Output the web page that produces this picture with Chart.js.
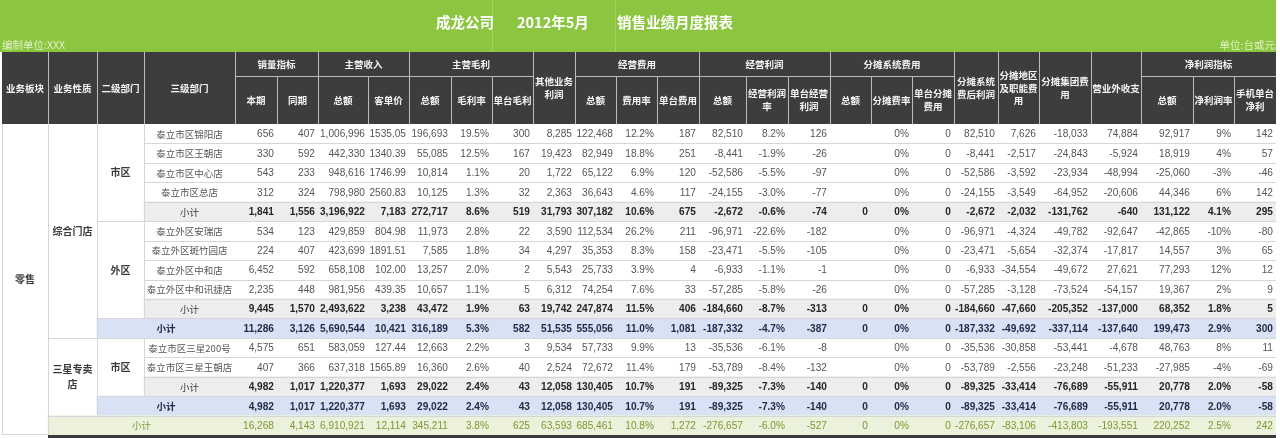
<!DOCTYPE html>
<html><head><meta charset="utf-8">
<script src="https://cdn.jsdelivr.net/npm/chart.js@4.4.1/dist/chart.umd.min.js"></script>
<style>html,body{margin:0;padding:0;background:#fff;overflow:hidden}canvas{display:block}</style>
</head><body>
<canvas id="c" width="1280" height="438"></canvas>
<script>
// ================= DATA =================
const TITLE_PARTS = ['成龙公司', '2012年5月', '销售业绩月度报表'];
const ORG_NOTE = '编制单位:XXX';
const UNIT_NOTE = '单位:台或元';

const ROW_LABELS = ['泰立市区锦阳店','泰立市区王朝店','泰立市区中心店','泰立市区总店','小计',
  '泰立外区安瑞店','泰立外区斑竹园店','泰立外区中和店','泰立外区中和讯捷店','小计','小计',
  '泰立市区三星200号','泰立市区三星王朝店','小计','小计','小计'];
// d = store row, s = sub-total, b = blue total, g = green grand total
const ROW_KIND = ['d','d','d','d','s','d','d','d','d','s','b','d','d','s','b','g'];
const SEGMENTS = [{label:'零售', first:0, last:15}];
const NATURES  = [{label:'综合门店', first:0, last:10}, {label:'三星专卖店', first:11, last:14}];
const DEPTS    = [{label:'市区', first:0, last:4}, {label:'外区', first:5, last:9}, {label:'市区', first:11, last:13}];

const LEFT_HEADERS = ['业务板块','业务性质','二级部门','三级部门'];
const GROUP_HEADERS = [['销量指标',4,5],['主营收入',6,7],['主营毛利',8,10],['经营费用',12,14],
  ['经营利润',15,17],['分摊系统费用',18,20],['净利润指标',25,27]];
const SUB_HEADERS = ['本期','同期','总额','客单价','总额','毛利率','单台毛利','其他业务利润',
  '总额','费用率','单台费用','总额','经营利润率','单台经营利润','总额','分摊费率','单台分摊费用',
  '分摊系统费后利润','分摊地区及职能费用','分摊集团费用','营业外收支','总额','净利润率','手机单台净利'];
const FULL_HEIGHT_SUB = [11, 21, 22, 23, 24];

const qtyCur      = [656,330,543,312,1841,534,224,6452,2235,9445,11286,4575,407,4982,4982,16268];
const qtyPrev     = [407,592,233,324,1556,123,407,592,448,1570,3126,651,366,1017,1017,4143];
const revTotal    = [1006996,442330,948616,798980,3196922,429859,423699,658108,981956,2493622,5690544,583059,637318,1220377,1220377,6910921];
const revPerCust  = [1535.05,1340.39,1746.99,2560.83,7183,804.98,1891.51,102.00,439.35,3238,10421,127.44,1565.89,1693,1693,12114];
const gpTotal     = [196693,55085,10814,10125,272717,11973,7585,13257,10657,43472,316189,12663,16360,29022,29022,345211];
const gpRate      = [19.5,12.5,1.1,1.3,8.6,2.8,1.8,2.0,1.1,1.9,5.3,2.2,2.6,2.4,2.4,3.8];
const gpUnit      = [300,167,20,32,519,22,34,2,5,63,582,3,40,43,43,625];
const otherProfit = [8285,19423,1722,2363,31793,3590,4297,5543,6312,19742,51535,9534,2524,12058,12058,63593];
const opexTotal   = [122468,82949,65122,36643,307182,112534,35353,25733,74254,247874,555056,57733,72672,130405,130405,685461];
const opexRate    = [12.2,18.8,6.9,4.6,10.6,26.2,8.3,3.9,7.6,11.5,11.0,9.9,11.4,10.7,10.7,10.8];
const opexUnit    = [187,251,120,117,675,211,158,4,33,406,1081,13,179,191,191,1272];
const opTotal     = [82510,-8441,-52586,-24155,-2672,-96971,-23471,-6933,-57285,-184660,-187332,-35536,-53789,-89325,-89325,-276657];
const opRate      = [8.2,-1.9,-5.5,-3.0,-0.6,-22.6,-5.5,-1.1,-5.8,-8.7,-4.7,-6.1,-8.4,-7.3,-7.3,-6.0];
const opUnit      = [126,-26,-97,-77,-74,-182,-105,-1,-26,-313,-387,-8,-132,-140,-140,-527];
const sysTotal    = [null,null,null,null,0,null,null,null,null,0,0,null,null,0,0,0];
const sysRate     = [0,0,0,0,0,0,0,0,0,0,0,0,0,0,0,0];
const sysUnit     = [0,0,0,0,0,0,0,0,0,0,0,0,0,0,0,0];
const afterSys    = [82510,-8441,-52586,-24155,-2672,-96971,-23471,-6933,-57285,-184660,-187332,-35536,-53789,-89325,-89325,-276657];
const regionFee   = [7626,-2517,-3592,-3549,-2032,-4324,-5654,-34554,-3128,-47660,-49692,-30858,-2556,-33414,-33414,-83106];
const groupFee    = [-18033,-24843,-23934,-64952,-131762,-49782,-32374,-49672,-73524,-205352,-337114,-53441,-23248,-76689,-76689,-413803];
const nonOp       = [74884,-5924,-48994,-20606,-640,-92647,-17817,27621,-54157,-137000,-137640,-4678,-51233,-55911,-55911,-193551];
const netTotal    = [92917,18919,-25060,44346,131122,-42865,14557,77293,19367,68352,199473,48763,-27985,20778,20778,220252];
const netRate     = [9,4,-3,6,4.1,-10,3,12,2,1.8,2.9,8,-4,2.0,2.0,2.5];
const netUnit     = [142,57,-46,142,295,-80,65,12,9,5,300,11,-69,-58,-58,242];

// ================= LAYOUT / STYLE =================
const COL_W = [46,49,47,91,42,41,50,41,42,41,41,42,41,41,42,47,42,42,41,41,42,44,41,52,50,52,41,42];
const BOUNDS = COL_W.reduce((a,w)=>{a.push(a[a.length-1]+w);return a;},[0]);
const TOTAL_W = BOUNDS[BOUNDS.length-1];
const TITLE_BOTTOM = 52, HEADER_SPLIT = 76;
const TITLE_AT = [434, 515, 615];
const TITLE_SEPS = [490, 613];
const GREEN = '#8cc540', HEAD_BG = '#3d3d3d', HEAD_LINE = '#bcbcbc', GRID = '#d6d6d6';
const ROW_BG = {s:'#ededed', b:'#d9e2f5', g:'#ebf1db'};
const ROW_COLOR = {d:'#555555', s:'#262626', b:'#1d2945', g:'#7a9a32'};
const NUMF = "'Liberation Sans', Arial, 'Noto Sans CJK SC', sans-serif";
const CJK = "'Noto Sans CJK SC', 'Liberation Sans', sans-serif";
const NUM_SIZE = 11.5, NUM_SQUEEZE = 0.88, NUM_PAD = 3;

const DATA_COLS = [
  [qtyCur,'int'],[qtyPrev,'int'],[revTotal,'int'],[revPerCust,'price'],
  [gpTotal,'int'],[gpRate,'pct1'],[gpUnit,'int'],[otherProfit,'int'],
  [opexTotal,'int'],[opexRate,'pct1'],[opexUnit,'int'],
  [opTotal,'int'],[opRate,'pct1'],[opUnit,'int'],
  [sysTotal,'int'],[sysRate,'pct0'],[sysUnit,'int'],
  [afterSys,'int'],[regionFee,'int'],[groupFee,'int'],[nonOp,'int'],
  [netTotal,'int'],[netRate,'netpct'],[netUnit,'int']];

function fmt(v, f, kind){
  if (v === null || v === undefined) return '';
  const detail = kind === 'd';
  switch(f){
    case 'price': return detail ? v.toFixed(2) : Math.round(v).toLocaleString('en-US');
    case 'pct1': return v.toFixed(1) + '%';
    case 'pct0': return v.toFixed(0) + '%';
    case 'netpct': return (detail ? v.toFixed(0) : v.toFixed(1)) + '%';
    default: return Math.round(v).toLocaleString('en-US');
  }
}
function findGroup(list, r){ return list.findIndex(g => r >= g.first && r <= g.last); }
function owner(c, r){
  const k = ROW_KIND[r];
  if (c === 0) return 'seg';
  if (c === 1) return k === 'g' ? 'g' : 'n' + findGroup(NATURES, r);
  if (c === 2) { if (k === 'g') return 'g'; if (k === 'b') return 'b' + r; const g = findGroup(DEPTS, r); return g >= 0 ? 'd' + g : 'x' + r; }
  if (c === 3) { if (k === 'g') return 'g'; if (k === 'b') return 'b' + r; return 'r' + r; }
  return 'r' + r + 'c' + c;
}
function wrap(ctx, str, maxW){
  const lines = []; let cur = '';
  for (const ch of str){
    if (cur && ctx.measureText(cur + ch).width > maxW){ lines.push(cur); cur = ch; } else cur += ch;
  }
  if (cur) lines.push(cur);
  return lines;
}
function drawLines(ctx, lines, x, yc, lh){
  const y0 = yc - (lines.length - 1) * lh / 2;
  lines.forEach((l, i) => ctx.fillText(l, x, y0 + i * lh));
}
function drawNum(ctx, str, xr, yc){
  ctx.save();
  ctx.translate(xr, yc);
  ctx.scale(NUM_SQUEEZE, 1);
  ctx.textAlign = 'right';
  ctx.fillText(str, 0, 0);
  ctx.restore();
}

const tablePainter = {
  id: 'tablePainter',
  beforeDatasetsDraw(chart){
    const {ctx, chartArea: a, scales: {x}} = chart;
    const X = c => x.getPixelForValue(BOUNDS[c]);
    ctx.save();
    // title band
    ctx.fillStyle = GREEN;
    ctx.fillRect(0, 0, Math.round(X(28)), TITLE_BOTTOM);
    ctx.fillStyle = '#a2d263';
    TITLE_SEPS.forEach(u => ctx.fillRect(Math.round(x.getPixelForValue(u)), 0, 1, TITLE_BOTTOM));
    ctx.fillStyle = '#ffffff';
    ctx.textBaseline = 'middle'; ctx.textAlign = 'left';
    ctx.font = "bold 14.5px " + CJK;
    TITLE_PARTS.forEach((t, i) => ctx.fillText(t, x.getPixelForValue(TITLE_AT[i]), 22));
    ctx.font = "10.5px " + CJK;
    ctx.fillStyle = '#e0f2c4';
    ctx.fillText(ORG_NOTE, X(0), 45);
    ctx.textAlign = 'right';
    ctx.fillText(UNIT_NOTE, X(28) - 1, 45);

    // header
    const top = TITLE_BOTTOM, bot = a.top, mid = HEADER_SPLIT;
    ctx.fillStyle = HEAD_BG;
    ctx.fillRect(Math.round(X(0)), top, Math.round(X(28) - X(0)), bot - top);
    ctx.fillStyle = HEAD_LINE;
    const inner = new Set();
    GROUP_HEADERS.forEach(g => { for (let c = g[1] + 1; c <= g[2]; c++) inner.add(c); });
    for (let c = 1; c < 28; c++){
      const y0 = inner.has(c) ? mid : top;
      ctx.fillRect(Math.round(X(c)), y0, 1, bot - y0);
    }
    GROUP_HEADERS.forEach(g => ctx.fillRect(Math.round(X(g[1])), mid, Math.round(X(g[2] + 1) - X(g[1])), 1));
    ctx.fillStyle = '#f4f4f4';
    ctx.font = "bold 9.5px " + CJK;
    ctx.textAlign = 'center'; ctx.textBaseline = 'middle';
    LEFT_HEADERS.forEach((t, c) => ctx.fillText(t, (X(c) + X(c + 1)) / 2, (top + bot) / 2));
    GROUP_HEADERS.forEach(g => ctx.fillText(g[0], (X(g[1]) + X(g[2] + 1)) / 2, (top + mid) / 2));
    SUB_HEADERS.forEach((t, i) => {
      const c = i + 4;
      const w = X(c + 1) - X(c) - 1;
      const lines = wrap(ctx, t, w);
      const full = FULL_HEIGHT_SUB.includes(c);
      drawLines(ctx, lines, (X(c) + X(c + 1)) / 2, full ? (top + bot) / 2 : (mid + bot) / 2, 12.5);
    });
    ctx.restore();
  },
  afterDatasetsDraw(chart){
    const {ctx, chartArea: a, scales: {x, y}} = chart;
    const X = c => x.getPixelForValue(BOUNDS[c]);
    const band = y.getPixelForValue(1) - y.getPixelForValue(0);
    const rowTop = r => y.getPixelForValue(r) - band / 2;
    const n = ROW_LABELS.length;
    ctx.save();
    ctx.fillStyle = GRID;
    for (let r = 1; r < n; r++){
      const yy = Math.round(rowTop(r));
      for (let c = 0; c < 28; c++){
        if (owner(c, r - 1) !== owner(c, r)) ctx.fillRect(Math.round(X(c)), yy, Math.round(X(c + 1)) - Math.round(X(c)), 1);
      }
    }
    for (let r = 0; r < n; r++){
      const y0 = Math.round(rowTop(r)), y1 = Math.round(rowTop(r + 1));
      for (let c = 1; c <= 3; c++){
        if (owner(c - 1, r) !== owner(c, r)) ctx.fillRect(Math.round(X(c)), y0, 1, y1 - y0);
      }
    }
    ctx.fillRect(Math.round(X(0)), a.top, 1, a.bottom - a.top);
    ctx.fillRect(Math.round(X(0)), Math.round(a.bottom) - 1, Math.round(X(1) - X(0)), 1);
    ctx.fillStyle = '#3a3a3a';
    ctx.fillRect(Math.round(X(1)), Math.round(a.bottom), Math.round(X(28) - X(1)), 3);

    ctx.textBaseline = 'middle';
    const mergedText = (label, c0, c1, r0, r1, font, color) => {
      ctx.font = font; ctx.fillStyle = color; ctx.textAlign = 'center';
      const lines = wrap(ctx, label, X(c1 + 1) - X(c0) - 6);
      drawLines(ctx, lines, (X(c0) + X(c1 + 1)) / 2, (rowTop(r0) + rowTop(r1 + 1)) / 2, 15);
    };
    SEGMENTS.forEach(g => mergedText(g.label, 0, 0, g.first, g.last, "bold 10px " + CJK, '#3a3a3a'));
    NATURES.forEach(g => mergedText(g.label, 1, 1, g.first, g.last, "bold 10px " + CJK, '#3a3a3a'));
    DEPTS.forEach(g => mergedText(g.label, 2, 2, g.first, g.last, "bold 10px " + CJK, '#3a3a3a'));
    ROW_LABELS.forEach((lab, r) => {
      const k = ROW_KIND[r];
      const c0 = k === 'g' ? 1 : k === 'b' ? 2 : 3;
      const font = (k === 'b' ? 'bold ' : '') + '9.5px ' + CJK;
      const color = k === 'd' ? '#555555' : k === 's' ? '#3a3a3a' : ROW_COLOR[k];
      ctx.font = font; ctx.fillStyle = color; ctx.textAlign = 'center';
      ctx.fillText(lab, (X(c0) + X(4)) / 2, y.getPixelForValue(r) + 0.5);
    });
    DATA_COLS.forEach(([vals, f], i) => {
      const c = i + 4;
      vals.forEach((v, r) => {
        const k = ROW_KIND[r];
        ctx.font = ((k === 's' || k === 'b') ? 'bold ' : '') + NUM_SIZE + 'px ' + NUMF;
        ctx.fillStyle = ROW_COLOR[k];
        drawNum(ctx, fmt(v, f, k), X(c + 1) - NUM_PAD, y.getPixelForValue(r) + 0.5);
      });
    });
    ctx.restore();
  }
};

new Chart(document.getElementById('c'), {
  type: 'bar',
  data: {
    labels: ROW_LABELS,
    datasets: [{
      label: 'row shading',
      data: ROW_KIND.map(k => k === 's' ? [BOUNDS[3], TOTAL_W] : k === 'b' ? [BOUNDS[2], TOTAL_W] : k === 'g' ? [BOUNDS[1], TOTAL_W] : null),
      backgroundColor: ROW_KIND.map(k => ROW_BG[k] || '#ffffff'),
      borderWidth: 0,
      barPercentage: 1,
      categoryPercentage: 1
    }]
  },
  options: {
    indexAxis: 'y',
    responsive: false,
    devicePixelRatio: 1,
    animation: false,
    layout: {padding: {left: 2, right: 4, top: 124, bottom: 3}},
    scales: {
      x: {type: 'linear', min: 0, max: TOTAL_W, display: false},
      y: {type: 'category', display: false, offset: true}
    },
    plugins: {legend: {display: false}, tooltip: {enabled: false}, title: {display: false}}
  },
  plugins: [tablePainter]
});
</script>
</body></html>
